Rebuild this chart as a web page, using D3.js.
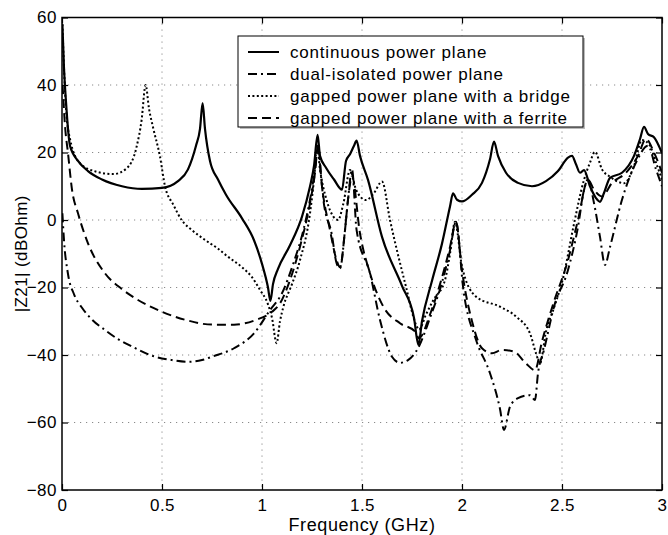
<!DOCTYPE html>
<html>
<head>
<meta charset="utf-8">
<script src="https://cdn.jsdelivr.net/npm/d3@7"></script>
<style>
  html, body { margin: 0; padding: 0; background: #fff; }
  svg { display: block; font-family: "Liberation Sans", Arial, Helvetica, sans-serif; }
</style>
</head>
<body>
<svg id="chart" width="668" height="535"></svg>
<script>
// Transfer impedance |Z21| versus frequency for four power-plane layouts
const xTicks = [0, 0.5, 1, 1.5, 2, 2.5, 3];
const yTicks = [-80, -60, -40, -20, 0, 20, 40, 60];

const seriesNames = [
  "continuous power plane",
  "dual-isolated power plane",
  "gapped power plane with a bridge",
  "gapped power plane with a ferrite"
];

// continuous power plane
const contFreq = [0.002, 0.01, 0.02, 0.04, 0.08, 0.13, 0.2, 0.3, 0.4, 0.5, 0.58, 0.63, 0.67, 0.69, 0.703,
  0.715, 0.74, 0.78, 0.82, 0.9, 0.96, 1.0, 1.03, 1.042, 1.055, 1.08, 1.14, 1.2, 1.24, 1.26, 1.278,
  1.29, 1.32, 1.36, 1.4, 1.42, 1.44, 1.46, 1.473, 1.49, 1.53, 1.6, 1.7, 1.76, 1.782, 1.8, 1.85, 1.9,
  1.94, 1.955, 1.975, 2.0, 2.05, 2.1, 2.14, 2.16, 2.18, 2.22, 2.28, 2.35, 2.42, 2.48, 2.53, 2.55,
  2.57, 2.59, 2.61, 2.64, 2.67, 2.69, 2.71, 2.74, 2.8, 2.86, 2.89, 2.91, 2.93, 2.96, 3.0];
const contDb = [58, 45, 35, 22, 17.5, 14.5, 12, 10, 9.2, 9.5, 11.5, 15, 22, 27, 34.6,
  27, 17.5, 12, 7.5, 0.5, -6, -13, -20, -24, -19, -14.5, -7.5, 1, 9.9, 16, 25.2,
  19, 15.5, 12, 9, 17.5, 19.5, 22, 23.5, 19, 11.9, -5, -19.5, -29, -37, -30, -18, -7,
  4, 7.9, 6, 5.5, 7.5, 11, 18, 23.2, 19, 14, 11, 10, 11.5, 14.5, 18.5, 19,
  16.5, 14, 14.8, 10, 6.5, 5.4, 8, 12.5, 14, 19, 24, 27.6, 25.5, 24.5, 19.8];

// dual-isolated power plane
const dualFreq = [0.002, 0.01, 0.03, 0.06, 0.1, 0.15, 0.215, 0.28, 0.35, 0.465, 0.55, 0.63, 0.7, 0.75,
  0.86, 0.96, 1.04, 1.1, 1.157, 1.207, 1.24, 1.265, 1.28, 1.295, 1.307, 1.348, 1.373, 1.39, 1.415,
  1.43, 1.45, 1.473, 1.54, 1.59, 1.65, 1.69, 1.73, 1.78, 1.84, 1.9, 1.94, 1.97, 2.007, 2.07, 2.14,
  2.19, 2.21, 2.24, 2.28, 2.34, 2.365, 2.38, 2.41, 2.46, 2.53, 2.58, 2.61, 2.63, 2.66, 2.69, 2.715,
  2.74, 2.8, 2.87, 2.93, 2.97, 3.0];
const dualDb = [2, -6, -16, -22, -26, -29.5, -32.6, -35.3, -37.5, -40.5, -41.5, -42, -41.5, -40.5,
  -38, -33.6, -26.7, -21.7, -12.8, -3, 6, 15, 22, 13, 6, -4, -12.8, -14.3, -3,
  6, 15, -3, -15.8, -29.6, -40.5, -42.3, -41.5, -38, -29, -18.5, -9, -0.5, -20.7, -35.5, -45.4,
  -56, -62.2, -55.3, -52.8, -51.9, -53.3, -45.4, -38.5, -25.7, -14.8, -2, 8.9, 12, 5, -5, -13.3,
  -8, 6, 17, 22, 15, 10];

// gapped power plane with a bridge
const bridgeFreq = [0.002, 0.01, 0.02, 0.04, 0.09, 0.173, 0.257, 0.323, 0.373, 0.398, 0.418, 0.435,
  0.457, 0.49, 0.515, 0.557, 0.598, 0.65, 0.715, 0.78, 0.83, 0.9, 0.948, 0.99, 1.03, 1.05, 1.073,
  1.09, 1.107, 1.15, 1.19, 1.24, 1.26, 1.275, 1.29, 1.323, 1.357, 1.38, 1.407, 1.44, 1.47, 1.52,
  1.56, 1.6, 1.64, 1.72, 1.77, 1.785, 1.82, 1.857, 1.915, 1.94, 1.965, 2.0, 2.07, 2.19, 2.27,
  2.34, 2.37, 2.39, 2.42, 2.46, 2.507, 2.557, 2.61, 2.64, 2.665, 2.7, 2.74, 2.81, 2.86, 2.9,
  2.94, 2.97, 3.0];
const bridgeDb = [58, 45, 33, 24, 16.8, 14.3, 13.6, 15.3, 21.7, 29.6, 40, 33,
  27, 18.8, 10, 4.5, 0, -3, -5.9, -8.5, -10.9, -14, -16.8, -20.7, -25, -29, -36.5,
  -30, -25.7, -19, -11.9, 2, 12, 22, 15, 5.9, 1, 0, 4.9, 14.8, 9, 5.9,
  8, 11.4, 0, -19.8, -31, -32.5, -28, -23.7, -17.8, -10, -0.5, -13.8, -22.7, -25.7, -28.6,
  -33.6, -39.5, -42.5, -33, -26, -16.8, -2, 11.9, 17, 20.2, 15, 12.8, 10.9, 16, 23.7,
  22, 17, 12];

// gapped power plane with a ferrite
const ferriteFreq = [0.003, 0.015, 0.03, 0.05, 0.08, 0.13, 0.215, 0.3, 0.38, 0.5, 0.63, 0.75, 0.86,
  0.97, 1.05, 1.09, 1.14, 1.19, 1.24, 1.265, 1.28, 1.3, 1.34, 1.373, 1.39, 1.415, 1.43, 1.45,
  1.49, 1.54, 1.607, 1.69, 1.765, 1.785, 1.84, 1.9, 1.94, 1.97, 2.0, 2.05, 2.1, 2.15, 2.2,
  2.26, 2.32, 2.365, 2.4, 2.457, 2.53, 2.58, 2.63, 2.66, 2.7, 2.75, 2.82, 2.88, 2.92, 2.96, 3.0];
const ferriteDb = [40, 28, 19.8, 9, 2, -6.9, -15.8, -20.5, -23.7, -27.2, -29.8, -31, -31,
  -29.6, -27.2, -24.7, -17.8, -7.9, 5, 14, 22, 10, -3, -11.9, -14, -3, 6, 13,
  -4, -15.8, -25.7, -30.6, -33, -35, -28, -17, -8, -0.5, -15, -30, -38, -39.5, -38.5,
  -39, -42.5, -44.5, -36, -24.7, -11.9, 0, 11.9, 9, 7, 11, 14, 19, 24, 20, 14];

const series = [
  { name: seriesNames[0], f: contFreq, v: contDb, dash: null },
  { name: seriesNames[1], f: dualFreq, v: dualDb, dash: "9,4,2,4" },
  { name: seriesNames[2], f: bridgeFreq, v: bridgeDb, dash: "2,2.4" },
  { name: seriesNames[3], f: ferriteFreq, v: ferriteDb, dash: "9,5" }
];

const svg = d3.select("#chart");
const plotLeft = 62, plotRight = 662, plotTop = 17.5, plotBottom = 490;

const x = d3.scaleLinear().domain([0, 3]).range([plotLeft, plotRight]);
const y = d3.scaleLinear().domain([-80, 60]).range([plotBottom, plotTop]);

// grid
const grid = svg.append("g").attr("stroke", "#8a8a8a").attr("stroke-width", 1)
  .attr("stroke-dasharray", "1.2,4.8");
grid.selectAll("line.gx").data(xTicks.slice(1, -1)).join("line")
  .attr("x1", d => x(d)).attr("x2", d => x(d)).attr("y1", plotTop).attr("y2", plotBottom);
grid.selectAll("line.gy").data(yTicks.slice(1, -1)).join("line")
  .attr("x1", plotLeft).attr("x2", plotRight).attr("y1", d => y(d)).attr("y2", d => y(d));

// axes with inward ticks on all four sides
const tickStyle = g => {
  g.select(".domain").remove();
  g.selectAll(".tick line").attr("stroke", "#000").attr("stroke-width", 1.2);
  g.selectAll("text").attr("fill", "#000").style("font-size", "17px")
    .style("letter-spacing", "0.5px")
    .style("font-family", "'Liberation Sans', Arial, Helvetica, sans-serif");
};
svg.append("g").attr("transform", `translate(0,${plotBottom})`)
  .call(d3.axisBottom(x).tickValues(xTicks).tickFormat(d3.format("")).tickSize(-6).tickPadding(9))
  .call(tickStyle);
svg.append("g").attr("transform", `translate(${plotLeft},0)`)
  .call(d3.axisLeft(y).tickValues(yTicks).tickFormat(d3.format("")).tickSize(-6).tickPadding(5))
  .call(tickStyle);
svg.append("g").attr("transform", `translate(0,${plotTop})`)
  .call(d3.axisTop(x).tickValues(xTicks).tickFormat("").tickSize(-6))
  .call(tickStyle);
svg.append("g").attr("transform", `translate(${plotRight},0)`)
  .call(d3.axisRight(y).tickValues(yTicks).tickFormat("").tickSize(-6))
  .call(tickStyle);

// curves
svg.append("clipPath").attr("id", "plotClip").append("rect")
  .attr("x", plotLeft).attr("y", plotTop)
  .attr("width", plotRight - plotLeft).attr("height", plotBottom - plotTop);

const line = d3.line()
  .x(d => x(d[0])).y(d => y(d[1]))
  .curve(d3.curveMonotoneX);

const curves = svg.append("g").attr("clip-path", "url(#plotClip)");
series.forEach(s => {
  const pts = s.f.map((f, i) => [f, s.v[i]]);
  curves.append("path")
    .attr("d", line(pts))
    .attr("fill", "none")
    .attr("stroke", "#000")
    .attr("stroke-width", s.dash ? 2 : 2.2)
    .attr("stroke-linejoin", "round")
    .attr("stroke-dasharray", s.dash);
});

// frame
svg.append("rect").attr("x", plotLeft).attr("y", plotTop)
  .attr("width", plotRight - plotLeft).attr("height", plotBottom - plotTop)
  .attr("fill", "none").attr("stroke", "#000").attr("stroke-width", 1.5);

// axis titles
svg.append("text").attr("x", (plotLeft + plotRight) / 2).attr("y", 531)
  .attr("text-anchor", "middle").style("font-size", "18px").style("letter-spacing", "0.6px")
  .text("Frequency (GHz)");
svg.append("text")
  .attr("transform", `translate(27,${(plotTop + plotBottom) / 2}) rotate(-90)`)
  .attr("text-anchor", "middle").style("font-size", "17px").style("letter-spacing", "0.4px")
  .text("|Z21| (dBOhm)");

// legend
const lg = svg.append("g");
lg.append("rect").attr("x", 240).attr("y", 38).attr("width", 345).attr("height", 91)
  .attr("fill", "#bbb");
lg.append("rect").attr("x", 238).attr("y", 36).attr("width", 345).attr("height", 91)
  .attr("fill", "#fff").attr("stroke", "#000").attr("stroke-width", 1);
series.forEach((s, i) => {
  const cy = 52 + i * 22;
  lg.append("line").attr("x1", 248).attr("x2", 279).attr("y1", cy).attr("y2", cy)
    .attr("stroke", "#000").attr("stroke-width", 2).attr("stroke-dasharray", s.dash);
  lg.append("text").attr("x", 290).attr("y", cy + 5.5)
    .style("font-size", "17px").style("letter-spacing", "0.8px")
    .text(s.name);
});
</script>
</body>
</html>
